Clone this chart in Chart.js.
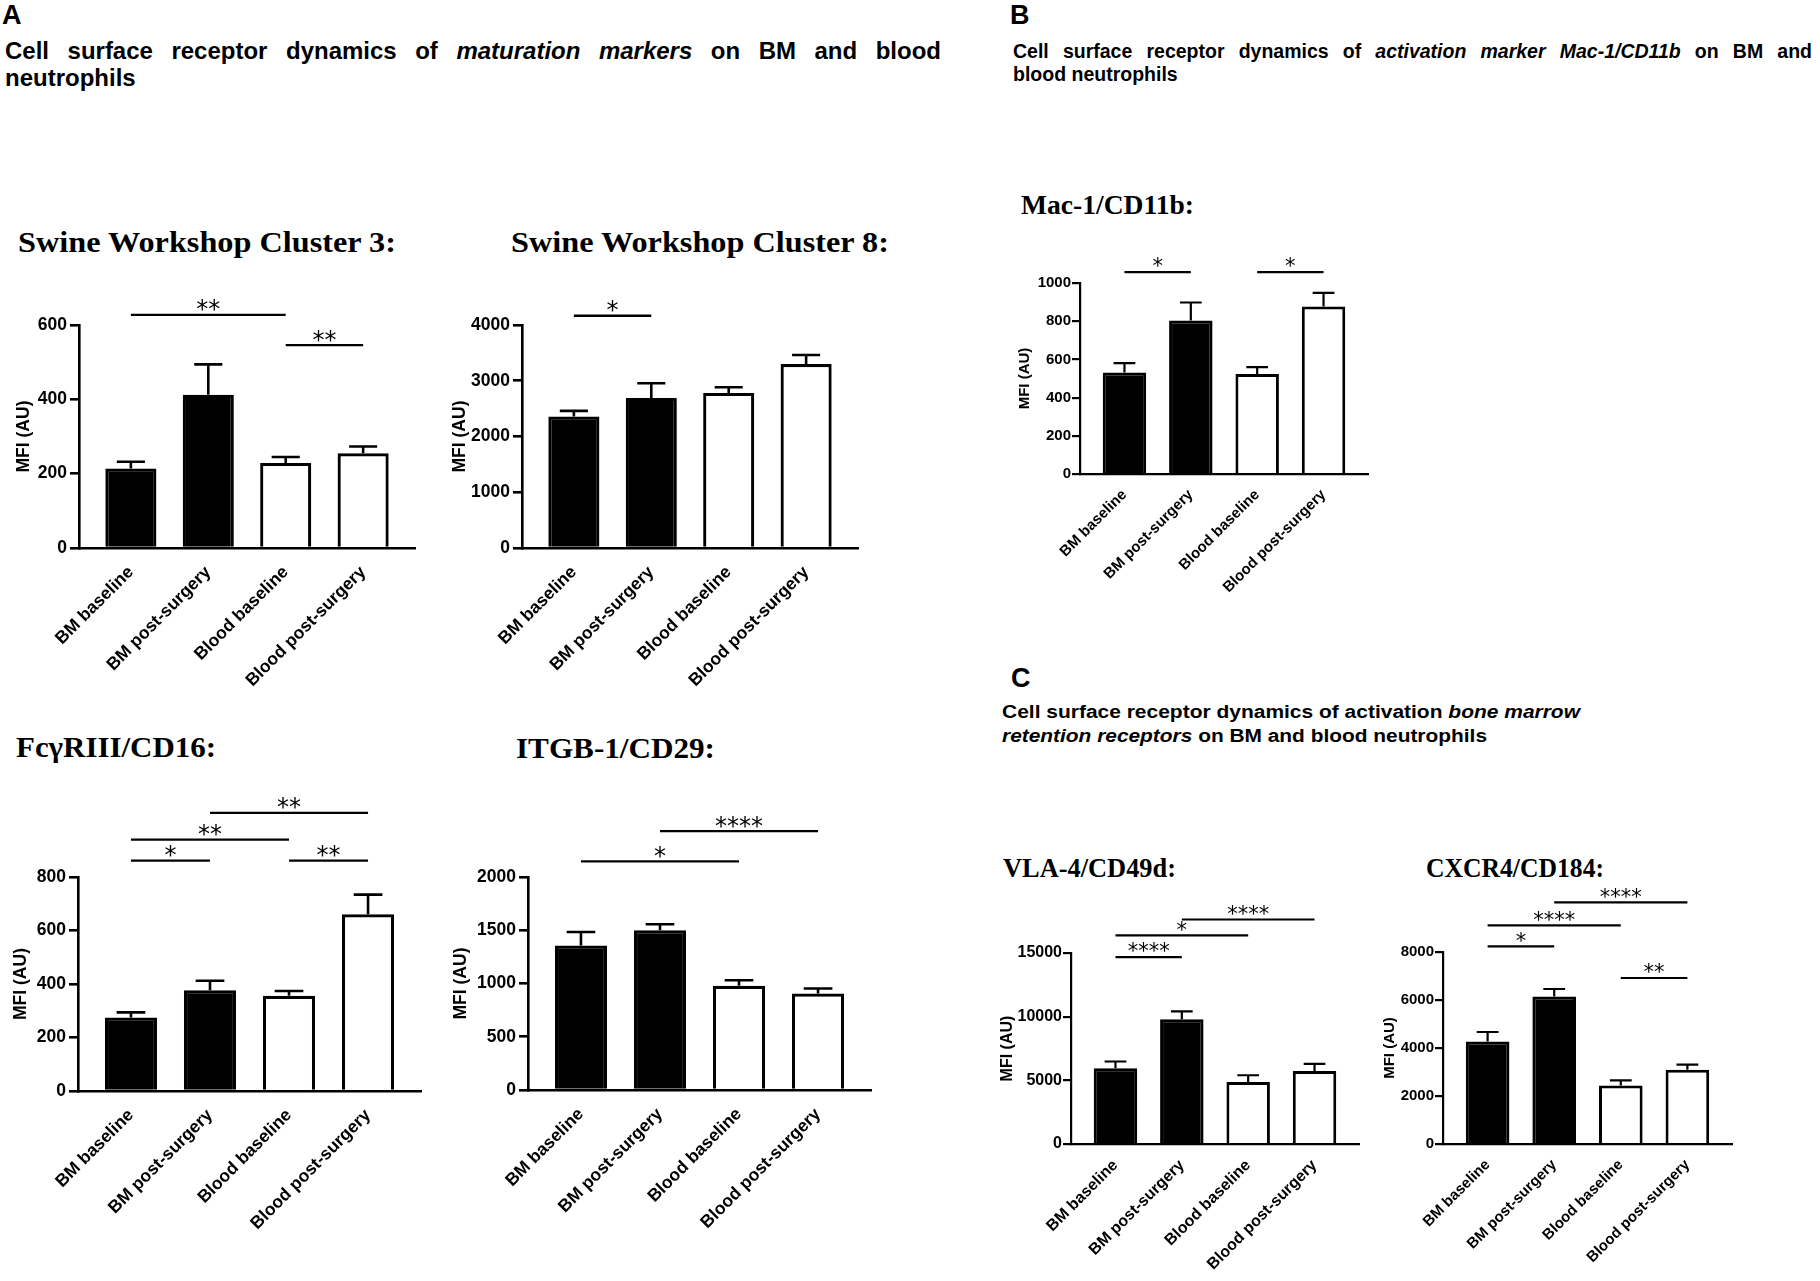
<!DOCTYPE html>
<html lang="en">
<head>
  <meta charset="UTF-8" />
  <title>Neutrophil receptor dynamics</title>
  <script src="https://cdn.jsdelivr.net/npm/chart.js"></script>
  <style>
    body {
      margin: 0;
      width: 1820px;
      height: 1281px;
      position: relative;
      overflow: hidden;
      background: #fff;
    }
    .t {
      position: absolute;
      white-space: nowrap;
      line-height: 1;
      font-weight: bold;
      color: #000;
      transform-origin: 0 0;
    }
    .sans { font-family: "Liberation Sans", Arial, sans-serif; }
    .serif { font-family: "Liberation Serif", "Times New Roman", serif; }
    .panel { position: absolute; }
    .panel canvas { display: block; }
  </style>
</head>
<body>
  <!-- panel letters and headings -->
  <div class="t sans" style="left:2px;top:2px;font-size:27px">A</div>
  <div class="t sans" data-w="936" data-mode="justify" style="left:5px;top:39px;font-size:24px">Cell surface receptor dynamics of <i>maturation markers</i> on BM and blood</div>
  <div class="t sans" style="left:5px;top:66px;font-size:24px">neutrophils</div>

  <div class="t sans" style="left:1010px;top:2px;font-size:27px">B</div>
  <div class="t sans" data-w="799" data-mode="justify" style="left:1013px;top:42px;font-size:19.5px">Cell surface receptor dynamics of <i>activation marker Mac-1/CD11b</i> on BM and</div>
  <div class="t sans" style="left:1013px;top:65px;font-size:19.5px">blood neutrophils</div>

  <div class="t sans" style="left:1011px;top:665px;font-size:27px">C</div>
  <div class="t sans" data-w="578" style="left:1002px;top:704px;font-size:17.5px">Cell surface receptor dynamics of activation <i>bone marrow</i></div>
  <div class="t sans" data-w="485" style="left:1002px;top:728px;font-size:17.5px"><i>retention receptors</i> on BM and blood neutrophils</div>

  <!-- chart titles -->
  <div class="t serif" data-w="378" style="left:18px;top:227px;font-size:30px">Swine Workshop Cluster 3:</div>
  <div class="t serif" data-w="378" style="left:511px;top:227px;font-size:30px">Swine Workshop Cluster 8:</div>
  <div class="t serif" data-w="200" style="left:16px;top:732px;font-size:30px">FcγRIII/CD16:</div>
  <div class="t serif" data-w="199" style="left:516px;top:733px;font-size:30px">ITGB-1/CD29:</div>
  <div class="t serif" data-w="173" style="left:1021px;top:192px;font-size:27px">Mac-1/CD11b:</div>
  <div class="t serif" data-w="173" style="left:1003px;top:855px;font-size:27px">VLA-4/CD49d:</div>
  <div class="t serif" data-w="178" style="left:1426px;top:855px;font-size:27px">CXCR4/CD184:</div>

  <script>
    const categories = ['BM baseline', 'BM post-surgery', 'Blood baseline', 'Blood post-surgery'];
    const barFills = ['#000000', '#000000', '#ffffff', '#ffffff'];

    // Swine Workshop Cluster 3
    const swc3Mean = [214, 412, 229, 255];
    const swc3Sem = [18, 82, 16, 18];
    const swc3Ticks = [0, 200, 400, 600];
    const swc3Pairs = [[0, 2], [2, 3]];
    const swc3Stars = ['**', '**'];
    const swc3Level = [627, 546];

    // Swine Workshop Cluster 8
    const swc8Mean = [2357, 2692, 2782, 3301];
    const swc8Sem = [102, 263, 102, 161];
    const swc8Ticks = [0, 1000, 2000, 3000, 4000];
    const swc8Pairs = [[0, 1]];
    const swc8Stars = ['*'];
    const swc8Level = [4166];

    // FcgammaRIII / CD16
    const cd16Mean = [275, 377, 356, 661];
    const cd16Sem = [19, 35, 18, 73];
    const cd16Ticks = [0, 200, 400, 600, 800];
    const cd16Pairs = [[0, 1], [2, 3], [0, 2], [1, 3]];
    const cd16Stars = ['*', '**', '**', '**'];
    const cd16Level = [861, 861, 940, 1040];

    // ITGB-1 / CD29
    const cd29Mean = [1356, 1500, 978, 906];
    const cd29Sem = [128, 56, 53, 47];
    const cd29Ticks = [0, 500, 1000, 1500, 2000];
    const cd29Pairs = [[0, 2], [1, 3]];
    const cd29Stars = ['*', '****'];
    const cd29Level = [2147, 2431];

    // Mac-1 / CD11b
    const cd11bMean = [531, 804, 523, 877];
    const cd11bSem = [49, 94, 37, 71];
    const cd11bTicks = [0, 200, 400, 600, 800, 1000];
    const cd11bPairs = [[0, 1], [2, 3]];
    const cd11bStars = ['*', '*'];
    const cd11bLevel = [1057, 1057];

    // VLA-4 / CD49d
    const cd49dMean = [5950, 9790, 4870, 5740];
    const cd49dSem = [530, 630, 530, 550];
    const cd49dTicks = [0, 5000, 10000, 15000];
    const cd49dPairs = [[0, 1], [0, 2], [1, 3]];
    const cd49dStars = ['****', '*', '****'];
    const cd49dLevel = [14680, 16380, 17630];

    // CXCR4 / CD184
    const cd184Mean = [4275, 6150, 2442, 3096];
    const cd184Sem = [392, 308, 208, 208];
    const cd184Ticks = [0, 2000, 4000, 6000, 8000];
    const cd184Pairs = [[0, 1], [0, 2], [1, 3], [2, 3]];
    const cd184Stars = ['*', '****', '****', '**'];
    const cd184Level = [8236, 9110, 10069, 6917];

    const PAD_T = 120;
    const PAD_R = 20;
    const SANS = '"Liberation Sans", Arial, sans-serif';

    const styleA = { font: 17.5, xH: 160, axis: 2.6, border: 3.2, tick: 9, tickPad: 3, err: 2.6, cap: 0.55,
                     sigLine: 2.3, star: 24, starGap: 11, pct: 0.66, xPad: 14 };
    const styleB = { font: 15, xH: 130, axis: 2.2, border: 3, tick: 8, tickPad: 1, err: 2.2, cap: 0.5,
                     sigLine: 2.2, star: 21, starGap: 10.5, pct: 0.655, xPad: 12 };
    const styleC1 = Object.assign({}, styleB, { font: 16 });

    // upper error bar with cap, drawn over each bar
    function errorPlugin(means, sem, st) {
      return {
        id: 'errorBars',
        afterDatasetsDraw(chart) {
          const ctx = chart.ctx;
          const y = chart.scales.y;
          ctx.save();
          ctx.strokeStyle = '#000';
          ctx.lineWidth = st.err;
          chart.getDatasetMeta(0).data.forEach((bar, i) => {
            const top = y.getPixelForValue(means[i] + sem[i]);
            const half = bar.width * st.cap / 2;
            ctx.beginPath();
            ctx.moveTo(bar.x, bar.y);
            ctx.lineTo(bar.x, top);
            ctx.moveTo(bar.x - half, top);
            ctx.lineTo(bar.x + half, top);
            ctx.stroke();
          });
          ctx.restore();
        }
      };
    }

    // significance lines with asterisks
    function sigPlugin(pairs, stars, level, st) {
      return {
        id: 'sig',
        afterDraw(chart) {
          const { ctx, scales: { x, y } } = chart;
          ctx.save();
          ctx.strokeStyle = '#000';
          ctx.fillStyle = '#000';
          ctx.lineWidth = st.sigLine;
          ctx.font = st.star + 'px "DejaVu Sans"';
          ctx.textAlign = 'center';
          ctx.textBaseline = 'alphabetic';
          pairs.forEach((p, k) => {
            const x1 = x.getPixelForValue(p[0]);
            const x2 = x.getPixelForValue(p[1]);
            const yy = y.getPixelForValue(level[k]);
            ctx.beginPath();
            ctx.moveTo(x1, yy);
            ctx.lineTo(x2, yy);
            ctx.stroke();
            ctx.fillText(stars[k], (x1 + x2) / 2, yy - st.starGap + 0.56 * st.star);
          });
          ctx.restore();
        }
      };
    }

    function drawPanel(geo, st, means, sem, ticks, pairs, stars, level) {
      const yW = Math.round(geo.titleGap + st.font * 0.6);
      const w = geo.right - geo.left + yW + PAD_R;
      const h = PAD_T + geo.bottom - geo.top + st.xH;
      const wrap = document.createElement('div');
      wrap.className = 'panel';
      wrap.style.left = (geo.left - yW) + 'px';
      wrap.style.top = (geo.top - PAD_T) + 'px';
      const canvas = document.createElement('canvas');
      canvas.width = w;
      canvas.height = h;
      canvas.style.width = w + 'px';
      canvas.style.height = h + 'px';
      wrap.appendChild(canvas);
      document.body.appendChild(wrap);

      const font = { family: SANS, weight: 'bold', size: st.font };

      new Chart(canvas.getContext('2d'), {
        type: 'bar',
        data: {
          datasets: [{
            data: means.map((v, i) => ({ x: i, y: v })),
            backgroundColor: barFills,
            borderColor: '#000',
            borderWidth: st.border,
            borderSkipped: 'bottom',
            barPercentage: st.pct,
            categoryPercentage: 1
          }]
        },
        options: {
          responsive: false,
          animation: false,
          events: [],
          layout: { padding: { top: PAD_T, right: PAD_R, left: 0, bottom: 0 } },
          plugins: { legend: { display: false }, tooltip: { enabled: false } },
          scales: {
            x: {
              type: 'linear',
              min: -0.67,
              max: 3.67,
              offset: false,
              afterBuildTicks: s => { s.ticks = categories.map((c, i) => ({ value: i })); },
              afterFit: s => { s.height = st.xH; },
              grid: { display: false, drawTicks: false, offset: false },
              border: { display: true, color: '#000', width: st.axis },
              ticks: {
                autoSkip: false,
                minRotation: 45,
                maxRotation: 45,
                padding: st.xPad,
                color: '#000',
                font: font,
                callback: v => categories[v]
              }
            },
            y: {
              min: 0,
              max: ticks[ticks.length - 1],
              afterBuildTicks: s => { s.ticks = ticks.map(v => ({ value: v })); },
              afterFit: s => { s.width = yW; },
              grid: { display: true, drawOnChartArea: false, drawTicks: true, tickLength: st.tick,
                      color: '#000', lineWidth: st.axis },
              border: { display: true, color: '#000', width: st.axis },
              ticks: { padding: st.tickPad, color: '#000', font: font, callback: v => String(v) },
              title: { display: true, text: 'MFI (AU)', color: '#000', font: font, padding: 0 }
            }
          }
        },
        plugins: [errorPlugin(means, sem, st), sigPlugin(pairs, stars, level, st)]
      });
    }

    drawPanel({ left: 79, right: 415, top: 325, bottom: 548, titleGap: 54 }, styleA,
              swc3Mean, swc3Sem, swc3Ticks, swc3Pairs, swc3Stars, swc3Level);
    drawPanel({ left: 522, right: 858, top: 325, bottom: 548, titleGap: 61 }, styleA,
              swc8Mean, swc8Sem, swc8Ticks, swc8Pairs, swc8Stars, swc8Level);
    drawPanel({ left: 78, right: 421, top: 877, bottom: 1091, titleGap: 56 }, styleA,
              cd16Mean, cd16Sem, cd16Ticks, cd16Pairs, cd16Stars, cd16Level);
    drawPanel({ left: 528, right: 871, top: 877, bottom: 1090, titleGap: 66 }, styleA,
              cd29Mean, cd29Sem, cd29Ticks, cd29Pairs, cd29Stars, cd29Level);
    drawPanel({ left: 1080, right: 1368, top: 283, bottom: 474, titleGap: 55 }, styleB,
              cd11bMean, cd11bSem, cd11bTicks, cd11bPairs, cd11bStars, cd11bLevel);
    drawPanel({ left: 1071, right: 1359, top: 953, bottom: 1144, titleGap: 63 }, styleC1,
              cd49dMean, cd49dSem, cd49dTicks, cd49dPairs, cd49dStars, cd49dLevel);
    drawPanel({ left: 1443, right: 1732, top: 952, bottom: 1144, titleGap: 53 }, styleB,
              cd184Mean, cd184Sem, cd184Ticks, cd184Pairs, cd184Stars, cd184Level);

    // stretch headings and titles to the widths seen in the figure
    document.querySelectorAll('[data-w]').forEach(el => {
      const target = +el.dataset.w;
      const natural = el.getBoundingClientRect().width;
      const gaps = (el.textContent.match(/ /g) || []).length;
      if (el.dataset.mode === 'justify' && natural < target && gaps) {
        el.style.wordSpacing = ((target - natural) / gaps) + 'px';
      } else {
        el.style.transform = 'scaleX(' + (target / natural) + ')';
      }
    });
  </script>
</body>
</html>
